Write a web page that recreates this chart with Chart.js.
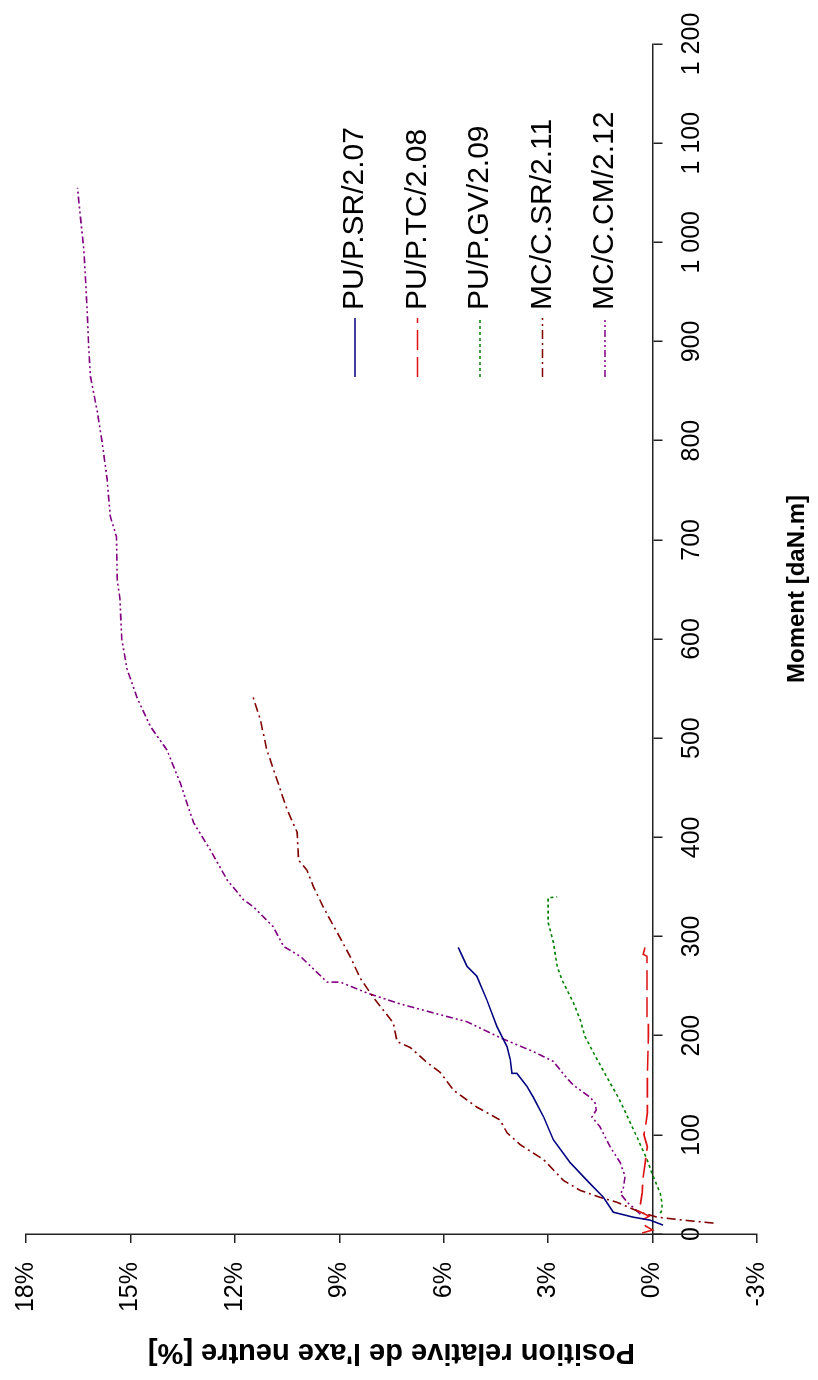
<!DOCTYPE html>
<html>
<head>
  <title>Position relative de l'axe neutre</title>
  <script src="https://cdn.jsdelivr.net/npm/chart.js@4.4.2/dist/chart.umd.min.js"></script>
  <style>
    html, body { margin: 0; padding: 0; background: #fff; overflow: hidden; }
    body { width: 818px; height: 1380px; position: relative; }
    /* chart is drawn landscape, then turned a quarter left */
    #wrap { position: absolute; left: 0; top: 0; width: 1380px; height: 818px;
            transform-origin: 0 0; transform: translateY(1380px) rotate(-90deg); }
  </style>
</head>
<body>
<div id="wrap"><canvas id="chart" width="1380" height="818"></canvas></div>
<script>
// Moment [daN.m] and position [%] for each test
const sr207M = [9, 14, 17, 22, 37, 51, 72, 95, 118, 138, 149, 162, 162, 176, 189, 209, 236, 260, 270, 289];
const sr207P = [-0.30, 0.07, 0.56, 1.13, 1.41, 1.80, 2.37, 2.85, 3.13, 3.43, 3.61, 3.90, 4.04, 4.09, 4.18, 4.47, 4.76, 5.05, 5.33, 5.58];

const tc208M = [1, 4, 8, 14, 18, 24, 30, 41, 58, 75, 88, 100, 105, 122, 160, 200, 213, 215, 250, 280, 282, 289];
const tc208P = [0.30, 0.00, 0.20, 0.30, 0.10, 0.45, 0.35, 0.30, 0.27, 0.20, 0.15, 0.25, 0.22, 0.15, 0.15, 0.12, 0.12, 0.16, 0.16, 0.16, 0.27, 0.22];

const gv209M = [21, 24, 31, 41, 58, 75, 98, 128, 138, 158, 183, 199, 216, 233, 256, 270, 294, 314, 339, 340];
const gv209P = [-0.22, -0.27, -0.27, -0.22, -0.02, 0.16, 0.45, 0.85, 0.99, 1.31, 1.70, 1.94, 2.08, 2.27, 2.60, 2.74, 2.85, 3.00, 3.00, 2.74];

const sr211M = [11, 14, 17, 22, 32, 37, 44, 54, 75, 90, 102, 115, 128, 145, 163, 173, 188, 194, 213, 239, 258, 280, 304, 329, 350, 367, 377, 405, 428, 458, 488, 519, 544];
const sr211P = [-1.75, -0.88, -0.13, 0.36, 1.02, 1.51, 2.08, 2.56, 3.13, 3.80, 4.18, 4.38, 5.05, 5.72, 6.10, 6.48, 6.96, 7.34, 7.45, 8.03, 8.40, 8.69, 9.06, 9.45, 9.74, 9.93, 10.17, 10.21, 10.50, 10.79, 11.08, 11.27, 11.50];

const cm212M = [20, 27, 32, 41, 44, 58, 72, 88, 108, 118, 125, 132, 138, 150, 157, 174, 184, 198, 214, 223, 232, 243, 254, 254, 280, 290, 310, 330, 337, 357, 387, 415, 455, 488, 512, 540, 570, 600, 640, 660, 703, 724, 761, 798, 831, 865, 895, 929, 963, 993, 1030, 1055];
const cm212P = [0.35, 0.56, 0.73, 0.93, 0.85, 0.79, 0.93, 1.22, 1.51, 1.74, 1.62, 1.65, 1.80, 2.27, 2.46, 2.85, 3.43, 4.38, 5.33, 6.30, 7.25, 8.20, 8.97, 9.35, 10.12, 10.60, 10.90, 11.47, 11.75, 12.22, 12.70, 13.19, 13.57, 13.95, 14.43, 14.80, 15.10, 15.25, 15.30, 15.38, 15.40, 15.58, 15.67, 15.81, 15.96, 16.15, 16.20, 16.24, 16.29, 16.34, 16.45, 16.52];

const seriesNames = ['PU/P.SR/2.07', 'PU/P.TC/2.08', 'PU/P.GV/2.09', 'MC/C.SR/2.11', 'MC/C.CM/2.12'];
const momentTicks = { min: 0, max: 1200, step: 100 };
const percentTicks = { min: -3, max: 18, step: 3 };

const FONT = "'Liberation Sans', Arial, sans-serif";
Chart.defaults.font.family = FONT;
Chart.defaults.color = '#000';

function pts(xs, ys) {
  return xs.map((x, i) => ({ x: x, y: ys[i] }));
}

function line(label, xs, ys, color, dash) {
  return {
    label: label,
    data: pts(xs, ys),
    borderColor: color,
    borderWidth: 1.6,
    borderDash: dash,
    pointRadius: 0,
    fill: false,
    tension: 0
  };
}

// legend and moment title, placed where the original had them
const sideLegend = {
  id: 'sideLegend',
  afterDraw(chart) {
    const ctx = chart.ctx;
    const area = chart.chartArea;
    ctx.save();
    chart.data.datasets.forEach((ds, i) => {
      const y = 355 + i * 62.5;
      ctx.strokeStyle = ds.borderColor;
      ctx.lineWidth = ds.borderWidth;
      ctx.setLineDash(ds.borderDash);
      ctx.beginPath();
      ctx.moveTo(1003, y);
      ctx.lineTo(1062, y);
      ctx.stroke();
      ctx.setLineDash([]);
      ctx.fillStyle = '#000';
      ctx.font = '30px ' + FONT;
      ctx.textAlign = 'left';
      ctx.textBaseline = 'middle';
      ctx.fillText(ds.label, 1070, y);
    });
    ctx.font = 'bold 24px ' + FONT;
    ctx.textAlign = 'center';
    ctx.fillText('Moment [daN.m]', (area.left + area.right) / 2 + 50, chart.height - 21);
    ctx.restore();
  }
};

const ctx = document.getElementById('chart').getContext('2d');
const chart = new Chart(ctx, {
  type: 'line',
  data: {
    datasets: [
      line(seriesNames[0], sr207M, sr207P, '#000080', []),
      line(seriesNames[1], tc208M, tc208P, '#dd1111', [20, 7]),
      line(seriesNames[2], gv209M, gv209P, '#008000', [3, 3]),
      line(seriesNames[3], sr211M, sr211P, '#800000', [9, 4, 2, 4]),
      line(seriesNames[4], cm212M, cm212P, '#800080', [7, 3, 2, 3, 2, 3])
    ]
  },
  options: {
    responsive: false,
    animation: false,
    devicePixelRatio: 1,
    layout: { padding: { top: 26, right: 44, bottom: 61, left: 11 } },
    plugins: {
      legend: { display: false },
      tooltip: { enabled: false }
    },
    scales: {
      x: {
        type: 'linear',
        position: { y: 0 },
        min: momentTicks.min,
        max: momentTicks.max,
        ticks: {
          stepSize: momentTicks.step,
          autoSkip: false,
          maxRotation: 0,
          padding: 16,
          font: { size: 25 },
          callback: v => v >= 1000 ? Math.floor(v / 1000) + ' ' + String(v % 1000).padStart(3, '0') : String(v)
        },
        grid: { drawOnChartArea: false, tickLength: 9, color: '#222', lineWidth: 1.5 },
        border: { display: true, color: '#222', width: 1.5 },
        afterFit: s => { s.paddingLeft = 0; s.paddingRight = 0; }
      },
      y: {
        type: 'linear',
        position: 'left',
        min: percentTicks.min,
        max: percentTicks.max,
        ticks: {
          stepSize: percentTicks.step,
          padding: 19,
          font: { size: 25 },
          callback: v => v + '%'
        },
        title: {
          display: true,
          text: "Position relative de l'axe neutre [%]",
          font: { size: 29, weight: 'bold' },
          padding: 0
        },
        grid: { drawOnChartArea: false, tickLength: 9, color: '#222', lineWidth: 1.5 },
        border: { display: true, color: '#222', width: 1.5 },
        afterFit: s => { s.width = 135; s.paddingTop = 0; s.paddingBottom = 0; }
      }
    }
  },
  plugins: [sideLegend]
});
</script>
</body>
</html>
